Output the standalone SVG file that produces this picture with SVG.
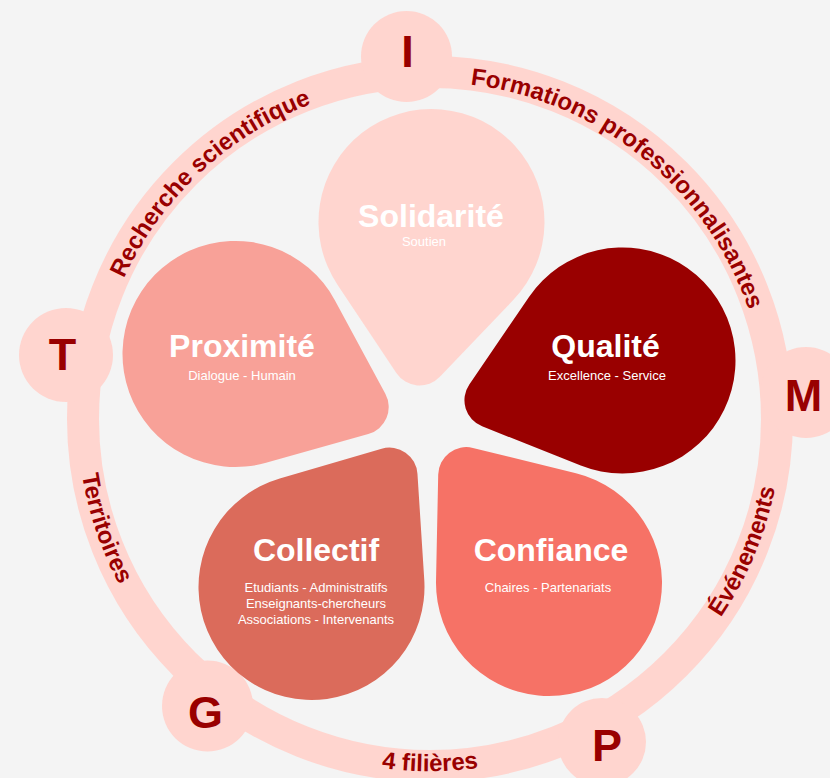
<svg xmlns="http://www.w3.org/2000/svg" width="830" height="778" viewBox="0 0 830 778">
  <defs>
    <path id="petal" d="M70.63,88.21 A113,113 0 1 1 70.63,-88.21 L153.5,-21.86 A28,28 0 0 1 153.5,21.86 Z"/>
    <path id="arcRecherche" d="M147.4,602.5 A337,337 0 0 1 632.8,149.9"/>
    <path id="arcFormations" d="M208.9,164.7 A337,337 0 0 1 724.7,582.4"/>
    <path id="arcTerritoires" d="M261.5,109.9 A352,352 0 0 0 482.6,767.1"/>
    <path id="arcEvenements" d="M352,762.2 A352,352 0 0 0 620.7,123.1"/>
    <path id="arcFilieres" d="M83.3,480.1 A352,352 0 0 0 776.7,480.1"/>
    <style>
      .ring { fill: none; stroke: #ffd5cf; stroke-width: 32; }
      .badge { fill: #ffd5cf; }
      .letter { font-family: "Liberation Sans", Arial, sans-serif; font-weight: bold; font-size: 45px; fill: #990000; text-anchor: middle; }
      .arc { font-family: "Liberation Sans", Arial, sans-serif; font-weight: bold; font-size: 24px; fill: #990000; }
      .title { font-family: "Liberation Sans", Arial, sans-serif; font-weight: bold; font-size: 32px; fill: #ffffff; text-anchor: middle; }
      .sub { font-family: "Liberation Sans", Arial, sans-serif; font-size: 13px; fill: #ffffff; text-anchor: middle; }
    </style>
  </defs>

  <rect x="0" y="0" width="830" height="778" fill="#f4f4f4"/>

  <g id="connectors">
    <circle class="ring" cx="430" cy="419" r="347"/>
  </g>

  <g id="badge-I"><circle class="badge" cx="406.5" cy="56.5" r="45.5"/><text class="letter" x="407.5" y="67">I</text></g>
  <g id="badge-T"><circle class="badge" cx="66" cy="355" r="47"/><text class="letter" x="62.5" y="370">T</text></g>
  <g id="badge-M"><circle class="badge" cx="806" cy="392.5" r="45.5"/><text class="letter" x="803.5" y="411">M</text></g>
  <g id="badge-G"><circle class="badge" cx="207.5" cy="706" r="45.5"/><text class="letter" x="205.5" y="728">G</text></g>
  <g id="badge-P"><circle class="badge" cx="602" cy="742" r="44"/><text class="letter" x="607" y="761">P</text></g>

  <g id="label-recherche"><text class="arc"><textPath href="#arcRecherche" startOffset="50%" text-anchor="middle">Recherche scientifique</textPath></text></g>
  <g id="label-formations"><text class="arc"><textPath href="#arcFormations" startOffset="50%" text-anchor="middle">Formations professionnalisantes</textPath></text></g>
  <g id="label-territoires"><text class="arc"><textPath href="#arcTerritoires" startOffset="50%" text-anchor="middle">Territoires</textPath></text></g>
  <g id="label-evenements"><text class="arc"><textPath href="#arcEvenements" startOffset="50%" text-anchor="middle">Événements</textPath></text></g>
  <g id="label-filieres"><text class="arc"><textPath href="#arcFilieres" startOffset="50%" text-anchor="middle">4 filières</textPath></text></g>

  <g id="solidarite">
    <use href="#petal" transform="translate(431.5,222) rotate(95)" fill="#ffd5cf"/>
    <text class="title" x="431" y="227">Solidarité</text>
    <text class="sub" x="424" y="246">Soutien</text>
  </g>
  <g id="qualite">
    <use href="#petal" transform="translate(622.5,360.5) rotate(163)" fill="#990000"/>
    <text class="title" x="605.5" y="357">Qualité</text>
    <text class="sub" x="607" y="380">Excellence - Service</text>
  </g>
  <g id="proximite">
    <use href="#petal" transform="translate(235.5,354) rotate(23)" fill="#f8a198"/>
    <text class="title" x="242" y="357">Proximité</text>
    <text class="sub" x="242" y="380">Dialogue - Humain</text>
  </g>
  <g id="collectif">
    <use href="#petal" transform="translate(311.5,587) rotate(305)" fill="#db6b5b"/>
    <text class="title" x="316" y="561">Collectif</text>
    <text class="sub" x="316" y="592">Etudiants - Administratifs</text>
    <text class="sub" x="316" y="608">Enseignants-chercheurs</text>
    <text class="sub" x="316" y="624">Associations - Intervenants</text>
  </g>
  <g id="confiance">
    <use href="#petal" transform="translate(549,583) rotate(232.5)" fill="#f67266"/>
    <text class="title" x="551" y="561">Confiance</text>
    <text class="sub" x="548" y="592">Chaires - Partenariats</text>
  </g>
</svg>
